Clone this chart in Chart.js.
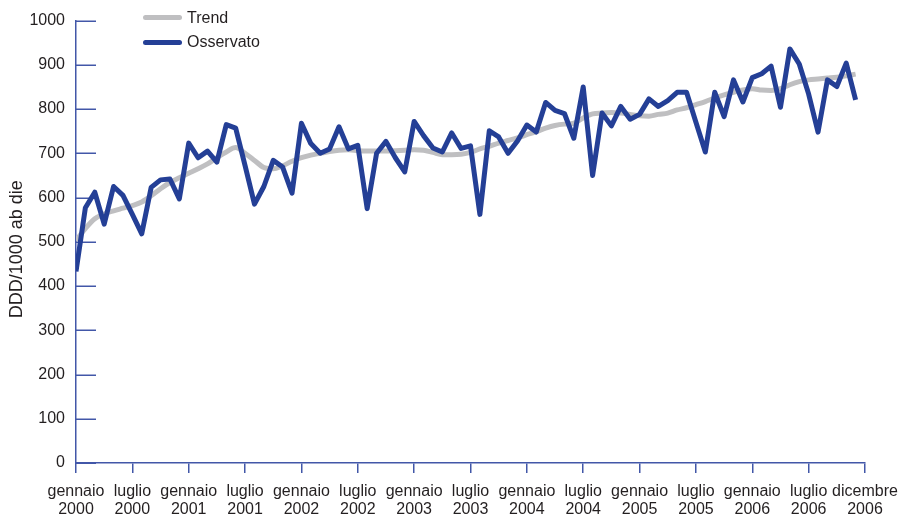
<!DOCTYPE html>
<html>
<head>
<meta charset="utf-8">
<script src="https://cdn.jsdelivr.net/npm/chart.js@4/dist/chart.umd.min.js"></script>
<style>
  html, body { margin: 0; padding: 0; background: #ffffff; }
  #wrap { position: relative; width: 902px; height: 515px; }
  canvas { position: absolute; left: 0; top: 0; }
  .lg { position: absolute; font-family: "Liberation Sans", sans-serif; font-size: 16px; color: #231f20; line-height: 20px; }
  .sw { position: absolute; width: 39px; height: 5px; border-radius: 3px; }
</style>
</head>
<body>
<div id="wrap">
  <canvas id="c" width="902" height="515"></canvas>
  <div class="sw" style="left:143px; top:15px; background:#bfbfc1;"></div>
  <div class="lg" style="left:187px; top:8px;">Trend</div>
  <div class="sw" style="left:143px; top:40px; background:#243f96;"></div>
  <div class="lg" style="left:187px; top:32px;">Osservato</div>
</div>
<script>
// ---- data ----
const tickLabels = [
  ["gennaio","2000"],["luglio","2000"],["gennaio","2001"],["luglio","2001"],
  ["gennaio","2002"],["luglio","2002"],["gennaio","2003"],["luglio","2003"],
  ["gennaio","2004"],["luglio","2004"],["gennaio","2005"],["luglio","2005"],
  ["gennaio","2006"],["luglio","2006"],["dicembre","2006"]
];
const observed = [
  433,577,612,540,625,605,562,518,623,640,642,597,
  723,690,705,680,765,757,672,585,625,684,669,610,
  768,722,700,710,760,710,718,575,700,727,690,658,
  772,740,712,703,746,711,717,562,751,737,700,728,
  764,748,815,797,790,734,850,650,791,762,806,777,
  788,823,806,819,838,838,770,703,838,783,866,816,
  871,880,897,804,936,902,834,748,866,851,904,821
];
const trend = [
  503,530,552,563,570,576,582,590,604,620,634,645,
  655,665,676,690,703,713,700,684,668,665,672,682,
  690,696,700,704,707,708,706,705,705,705,706,707,
  708,707,702,697,697,698,702,710,716,723,729,735,
  742,749,757,763,766,768,780,789,791,792,791,788,
  785,784,788,791,798,803,810,817,825,832,838,843,
  846,843,842,846,855,862,866,868,870,872,875,879
];
const yTicks = [0,100,200,300,400,500,600,700,800,900,1000];

const axisColor = '#4257a8';
const textColor = '#231f20';
const fontFamily = '"Liberation Sans", sans-serif';

const toPoints = arr => arr.map((v, i) => ({ x: i, y: v }));

const innerYTicks = {
  id: 'innerYTicks',
  beforeDatasetsDraw(chart) {
    const ctx = chart.ctx;
    const ys = chart.scales.y;
    const left = chart.chartArea.left;
    ctx.save();
    ctx.strokeStyle = axisColor;
    ctx.lineWidth = 1.5;
    yTicks.forEach(v => {
      const py = Math.round(ys.getPixelForValue(v)) + 0.25;
      ctx.beginPath();
      ctx.moveTo(left, py);
      ctx.lineTo(left + 20, py);
      ctx.stroke();
    });
    ctx.restore();
  }
};

new Chart(document.getElementById('c'), {
  type: 'line',
  data: {
    datasets: [
      {
        label: 'Osservato',
        data: toPoints(observed),
        borderColor: '#243f96',
        borderWidth: 5,
        pointRadius: 0,
        tension: 0,
        borderJoinStyle: 'round',
        fill: false
      },
      {
        label: 'Trend',
        data: toPoints(trend),
        borderColor: '#bfbfc1',
        borderWidth: 5,
        pointRadius: 0,
        cubicInterpolationMode: 'monotone',
        borderJoinStyle: 'round',
        fill: false
      }
    ]
  },
  options: {
    responsive: false,
    animation: false,
    layout: { padding: { top: 20, right: 37, left: 0, bottom: 0 } },
    plugins: {
      legend: { display: false },
      tooltip: { enabled: false }
    },
    scales: {
      x: {
        type: 'linear',
        min: 0,
        max: 84,
        afterFit: s => { s.height = 52; s.paddingRight = 0; s.paddingLeft = 0; },
        afterBuildTicks: s => { s.ticks = tickLabels.map((_, k) => ({ value: k * 6 })); },
        grid: {
          display: true,
          drawOnChartArea: false,
          drawTicks: true,
          tickLength: 10,
          color: axisColor,
          lineWidth: 1.5
        },
        border: { display: true, color: axisColor, width: 1.5 },
        ticks: {
          autoSkip: false,
          maxRotation: 0,
          padding: 10,
          color: textColor,
          font: { family: fontFamily, size: 16, lineHeight: 1.1 },
          callback: v => tickLabels[Math.round(v / 6)]
        }
      },
      y: {
        type: 'linear',
        min: 0,
        max: 1000,
        afterFit: s => { s.width = 76; },
        afterBuildTicks: s => { s.ticks = yTicks.map(v => ({ value: v })); },
        grid: { display: false, drawTicks: false },
        border: { display: true, color: axisColor, width: 1.5 },
        ticks: {
          padding: 11,
          color: textColor,
          font: { family: fontFamily, size: 16 },
          callback: v => String(v)
        },
        title: {
          display: true,
          text: 'DDD/1000 ab die\u00a0\u00a0\u00a0',
          color: textColor,
          font: { family: fontFamily, size: 18 },
          padding: { top: 6, bottom: 0 }
        }
      }
    }
  },
  plugins: [innerYTicks]
});
</script>
</body>
</html>
